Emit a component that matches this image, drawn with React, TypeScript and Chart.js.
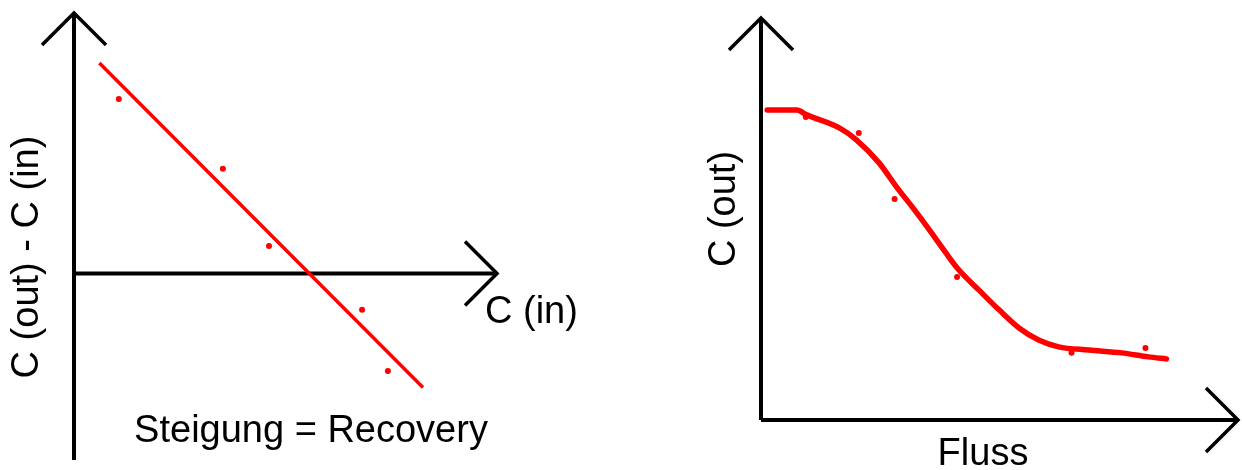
import React, { useEffect, useRef } from "react";
import { Chart, registerables } from "chart.js";

Chart.register(...registerables);

// Left panel: difference C(out) - C(in) against C(in), with its regression line
const LEFT_POINT_X = [1.06, 3.52, 4.61, 6.81, 7.42];
const LEFT_POINT_Y = [4.02, 2.41, 0.63, -0.84, -2.25];
const LEFT_FIT_X = [0.6, 8.25];
const LEFT_FIT_Y = [4.85, -2.63];

// Right panel: C(out) against flow, measured points and smoothed curve
const RIGHT_POINT_X = [0.94, 2.05, 2.8, 4.11, 6.51, 8.06];
const RIGHT_POINT_Y = [7.54, 7.14, 5.5, 3.56, 1.67, 1.79];
const RIGHT_CURVE_X = [0.13, 0.75, 0.96, 1.65, 2.0, 2.48, 2.84, 3.17, 3.53, 3.88, 4.15, 4.57, 4.99, 5.41, 5.82, 6.24, 6.87, 7.56, 8.12, 8.5];
const RIGHT_CURVE_Y = [7.71, 7.71, 7.59, 7.26, 6.97, 6.39, 5.8, 5.3, 4.73, 4.15, 3.73, 3.23, 2.74, 2.29, 1.99, 1.82, 1.74, 1.67, 1.57, 1.52];

const RED = "#ff0000";
const FONT = "38px 'Liberation Sans', Arial, Helvetica, sans-serif";

const zip = (xs: number[], ys: number[]) => xs.map((x, i) => ({ x, y: ys[i] }));

type Label = (chart: any) => { text: string; x: number; y: number; rotate?: boolean; align?: CanvasTextAlign };

// Draws the two axes through the origin with open arrow heads, plus free text labels
const makeSketchPlugin = (labels: Label[]) => ({
  id: "sketchAxes",
  beforeDatasetsDraw(chart: any) {
    const { ctx } = chart;
    const xs = chart.scales.x;
    const ys = chart.scales.y;
    const ox = xs.getPixelForValue(0);
    const oy = ys.getPixelForValue(0);
    const right = xs.getPixelForValue(xs.max);
    const top = ys.getPixelForValue(ys.max);
    const bottom = ys.getPixelForValue(ys.min);
    const head = 32;
    ctx.save();
    ctx.strokeStyle = "#000";
    ctx.lineWidth = 4;
    ctx.lineCap = "butt";
    ctx.lineJoin = "miter";
    ctx.beginPath();
    ctx.moveTo(ox, bottom);
    ctx.lineTo(ox, top);
    ctx.moveTo(ox, oy);
    ctx.lineTo(right, oy);
    ctx.stroke();
    ctx.lineWidth = 3.5;
    ctx.beginPath();
    ctx.moveTo(ox - head, top + head);
    ctx.lineTo(ox, top);
    ctx.lineTo(ox + head, top + head);
    ctx.moveTo(right - head, oy - head);
    ctx.lineTo(right, oy);
    ctx.lineTo(right - head, oy + head);
    ctx.stroke();
    ctx.restore();
  },
  afterDraw(chart: any) {
    const { ctx } = chart;
    ctx.save();
    ctx.fillStyle = "#000";
    ctx.font = FONT;
    ctx.textBaseline = "alphabetic";
    labels.forEach((fn) => {
      const l = fn(chart);
      ctx.save();
      ctx.translate(l.x, l.y);
      if (l.rotate) ctx.rotate(-Math.PI / 2);
      ctx.textAlign = l.rotate ? "center" : l.align || "left";
      ctx.fillText(l.text, 0, 0);
      ctx.restore();
    });
    ctx.restore();
  },
});

function Panel(props: {
  left: number;
  width: number;
  padding: { left: number; right: number; top: number; bottom: number };
  xRange: [number, number];
  yRange: [number, number];
  datasets: any[];
  labels: Label[];
}) {
  const ref = useRef<HTMLCanvasElement | null>(null);
  useEffect(() => {
    if (!ref.current) return;
    const chart = new Chart(ref.current, {
      type: "scatter",
      data: { datasets: props.datasets },
      options: {
        responsive: false,
        animation: false,
        layout: { padding: props.padding },
        plugins: { legend: { display: false }, tooltip: { enabled: false }, title: { display: false } },
        scales: {
          x: { type: "linear", display: false, min: props.xRange[0], max: props.xRange[1] },
          y: { type: "linear", display: false, min: props.yRange[0], max: props.yRange[1] },
        },
      },
      plugins: [makeSketchPlugin(props.labels)],
    });
    return () => chart.destroy();
  }, []);
  return (
    <canvas
      ref={ref}
      width={props.width}
      height={470}
      style={{ position: "absolute", left: props.left, top: 0, width: props.width, height: 470 }}
    />
  );
}

export default function App() {
  const leftDatasets = [
    {
      label: "Regression",
      data: zip(LEFT_FIT_X, LEFT_FIT_Y),
      showLine: true,
      borderColor: RED,
      borderWidth: 3.5,
      pointRadius: 0,
      tension: 0,
    },
    {
      label: "Messwerte",
      data: zip(LEFT_POINT_X, LEFT_POINT_Y),
      pointRadius: 3,
      pointBackgroundColor: RED,
      pointBorderWidth: 0,
      showLine: false,
    },
  ];
  const rightDatasets = [
    {
      label: "Verlauf",
      data: zip(RIGHT_CURVE_X, RIGHT_CURVE_Y),
      showLine: true,
      borderColor: RED,
      borderWidth: 5.5,
      borderCapStyle: "round",
      pointRadius: 0,
      cubicInterpolationMode: "monotone",
    },
    {
      label: "Messwerte",
      data: zip(RIGHT_POINT_X, RIGHT_POINT_Y),
      pointRadius: 3,
      pointBackgroundColor: RED,
      pointBorderWidth: 0,
      showLine: false,
    },
  ];

  const leftLabels: Label[] = [
    (c) => ({ text: "C (out) - C (in)", x: 38, y: 257, rotate: true }),
    (c) => ({ text: "C (in)", x: c.chartArea.right - 12, y: c.scales.y.getPixelForValue(0) + 50 }),
    (c) => ({ text: "Steigung = Recovery", x: 311, y: 442, align: "center" }),
  ];
  const rightLabels: Label[] = [
    (c) => ({ text: "C (out)", x: 115, y: 209, rotate: true }),
    (c) => ({ text: "Fluss", x: 363, y: 465, align: "center" }),
  ];

  return (
    <div style={{ position: "absolute", left: 0, top: 0, width: 1242, height: 470, background: "#fff", overflow: "hidden" }}>
      <Panel
        left={0}
        width={620}
        padding={{ left: 74, right: 123, top: 13, bottom: 10 }}
        xRange={[0, 10]}
        yRange={[-4.3, 6]}
        datasets={leftDatasets}
        labels={leftLabels}
      />
      <Panel
        left={620}
        width={622}
        padding={{ left: 141, right: 2, top: 18, bottom: 50 }}
        xRange={[0, 10]}
        yRange={[0, 10]}
        datasets={rightDatasets}
        labels={rightLabels}
      />
    </div>
  );
}
